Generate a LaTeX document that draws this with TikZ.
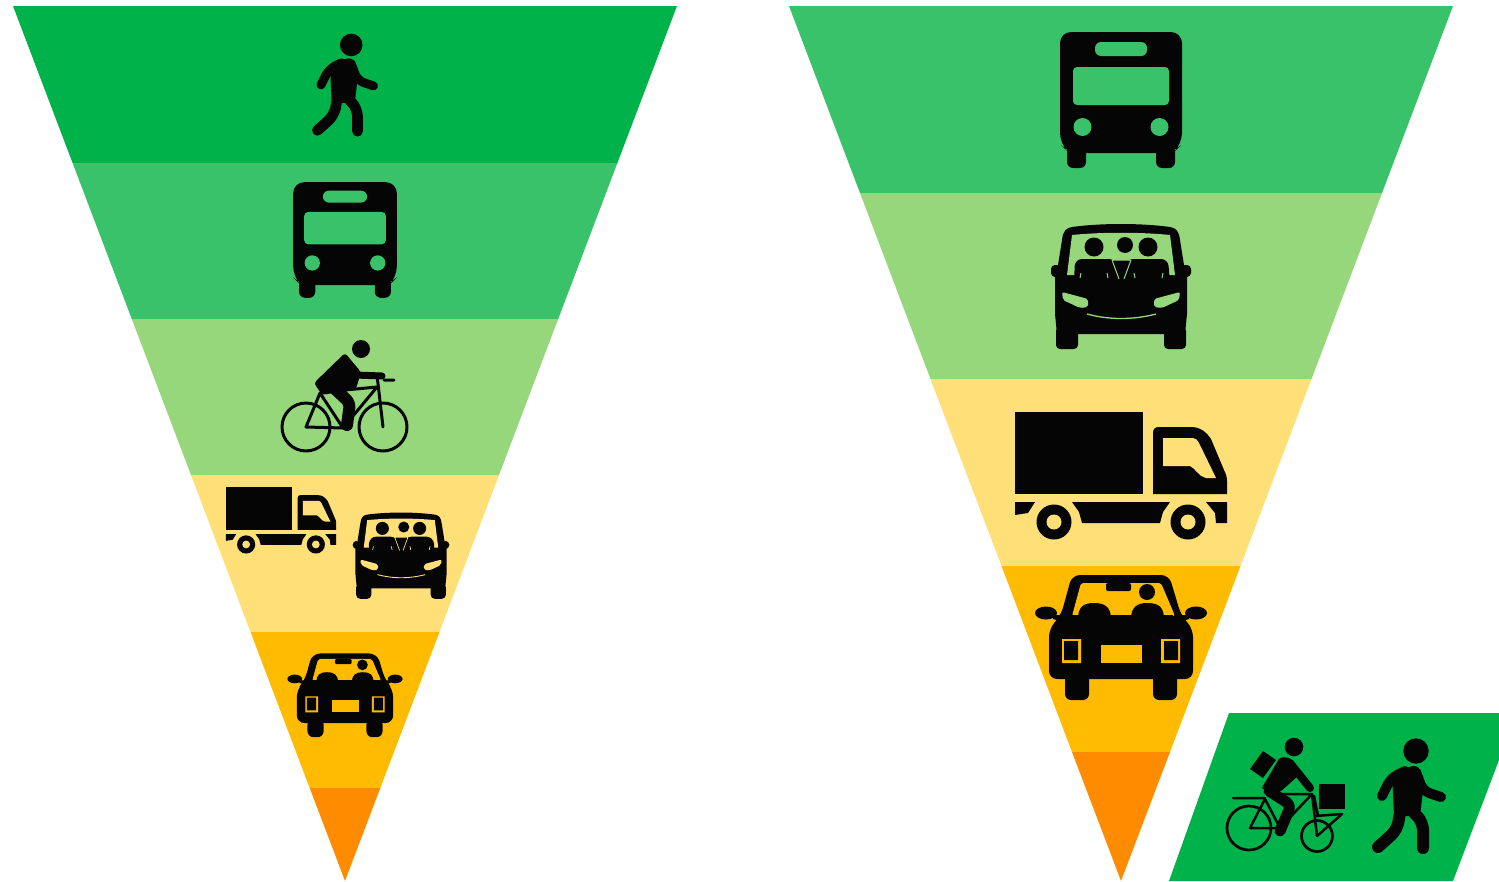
\documentclass[tikz,border=0pt]{standalone}
\definecolor{gA}{HTML}{00B24A}
\definecolor{gB}{HTML}{3AC26A}
\definecolor{gC}{HTML}{97D77C}
\definecolor{yA}{HTML}{FFDF77}
\definecolor{yB}{HTML}{FFBB00}
\definecolor{oA}{HTML}{FF8C00}
\definecolor{ink}{HTML}{050505}
\tikzset{icon/.style={fill=ink,draw=none},
  cut/.style={fill=#1,draw=none},
  stroke/.style={draw=ink,line cap=round,line join=round}}
\newcommand{\icbus}[4]{\begin{scope}[shift={(#1,#2)},scale=#3]
 \fill[icon,rounded corners=6] (-54,40) -- (-54,68) -- (-35,68) -- (-35,40) -- cycle;
 \fill[icon,rounded corners=6] (35,40) -- (35,68) -- (54,68) -- (54,40) -- cycle;
 \fill[icon,rounded corners=11] (-61,-68) -- (61,-68) -- (61,44) -- (52,53) -- (-52,53) -- (-61,44) -- cycle;
 \fill[cut=#4,rounded corners=6] (-26,-58) -- (26,-58) -- (26,-44) -- (-26,-44) -- cycle;
 \fill[cut=#4,rounded corners=4] (-48,-33) -- (48,-33) -- (48,5) -- (-48,5) -- cycle;
 \fill[cut=#4] (-38.5,27) circle[radius=9] (38.5,27) circle[radius=9];
\end{scope}}
\newcommand{\icvan}[4]{\begin{scope}[shift={(#1,#2)},scale=#3]
 \fill[icon,rounded corners=4] (-65,40) -- (-65,62) -- (-43,62) -- (-43,40) -- cycle;
 \fill[icon,rounded corners=4] (43,40) -- (43,62) -- (65,62) -- (65,40) -- cycle;
 \fill[icon,rounded corners=4] (-70,-22) -- (-60,-22) -- (-60,-10) -- (-70,-10) -- cycle;
 \fill[icon,rounded corners=4] (70,-22) -- (60,-22) -- (60,-10) -- (70,-10) -- cycle;
 \fill[icon] (-59,-47) .. controls (-58,-56) and (-55,-59) .. (-49,-60) .. controls (-20,-64) and (20,-64) .. (49,-60) .. controls (55,-59) and (58,-56) .. (59,-47) -- (63,-22) -- (66,-10) -- (66,27) -- (64,47) -- (-64,47) -- (-66,27) -- (-66,-10) -- (-63,-22) -- cycle;
 \fill[cut=#4] (-49,-52) .. controls (-20,-55) and (20,-55) .. (49,-52) -- (54,-12) -- (-54,-12) -- cycle;
 \fill[icon] (-27,-40) circle[radius=9.5] (4,-42) circle[radius=8] (27,-40) circle[radius=9.5];
 \fill[icon,rounded corners=7] (-47,-4) -- (-46,-28) -- (-5,-28) -- (-5,-4) -- cycle;
 \fill[icon,rounded corners=7] (5,-4) -- (5,-28) -- (47,-28) -- (49,-4) -- cycle;
 \fill[icon] (-8,-27) rectangle (8,-4);
 \draw[#4,line width=#3*1pt] (-9,-27) -- (-2,-8) (10,-27) -- (3,-8) (-9,-27) -- (10,-27);
 \draw[#4,line width=#3*1pt] (-41,-9) -- (-40,-14) (-13,-9) -- (-14,-14) (14,-9) -- (13,-14) (41,-9) -- (42,-14);
 \fill[cut=#4,rounded corners=2] (-59,5) -- (-33,12) -- (-33,20) -- (-41,21) -- (-58,13) -- cycle;
 \fill[cut=#4,rounded corners=2] (59,5) -- (33,12) -- (33,20) -- (41,21) -- (58,13) -- cycle;
 \draw[#4,line width=#3*1.3pt] (-34,27) .. controls (-12,33) and (12,33) .. (35,27);
\end{scope}}
\newcommand{\ictruck}[4]{\begin{scope}[shift={(#1,#2)},scale=#3]
 \fill[icon] (-106,-63) rectangle (22,19);
 \fill[icon] (32,19) -- (32,-42) .. controls (32,-46) and (34,-48) .. (38,-48) -- (70,-48) .. controls (80,-48) and (86,-42) .. (90,-36) -- (103,-5) .. controls (105,-1) and (106,2) .. (106,6) -- (106,19) -- cycle;
 \fill[cut=#4] (42,-37) -- (72,-37) .. controls (75,-37) and (76,-35) .. (78,-32) -- (95,3) -- (85,3) .. controls (78,2) and (74,-7) .. (69,-9) -- (42,-9) -- cycle;
 \fill[icon] (-106,27) -- (-86,27) -- (-93,38) -- (-106,40) -- cycle;
 \fill[icon] (-49,27) -- (49,27) -- (42,37) -- (39,48) -- (-39,48) -- (-42,37) -- cycle;
 \fill[icon] (85,27) -- (106,27) -- (106,48) -- (95,48) -- (94,38) -- cycle;
 \fill[icon] (-67,47) circle[radius=17.5] (67,47) circle[radius=17.5];
 \fill[cut=#4] (-67,47) circle[radius=7.5] (67,47) circle[radius=7.5];
\end{scope}}
\newcommand{\iccar}[4]{\begin{scope}[shift={(#1,#2)},scale=#3]
 \fill[icon,rounded corners=6] (-56,35) -- (-56,63) -- (-32,63) -- (-32,35) -- cycle;
 \fill[icon,rounded corners=6] (32,35) -- (32,63) -- (56,63) -- (56,35) -- cycle;
 \fill[icon] (-75,-24) ellipse[x radius=11,y radius=6.5] (75,-24) ellipse[x radius=11,y radius=6.5];
 \fill[icon] (-68,-22) -- (-55,-22) -- (-55,-14) -- (-68,-18) -- cycle;
 \fill[icon] (68,-22) -- (55,-22) -- (55,-14) -- (68,-18) -- cycle;
 \fill[icon,rounded corners=8] (-49,-62) -- (48,-62) -- (60,-22) -- (72,-8) -- (72,42) -- (-72,42) -- (-72,-8) -- (-60,-22) -- cycle;
 \fill[cut=#4,rounded corners=2] (-49,-21) -- (-40,-54) -- (40,-54) -- (54,-21) -- cycle;
 \fill[icon,rounded corners=2] (-15,-54) rectangle (10,-46);
 \fill[icon] (26,-45) circle[radius=8];
 \fill[icon] (-43,-20) .. controls (-42,-30) and (-38,-34) .. (-27,-34) .. controls (-16,-34) and (-11,-30) .. (-10,-20) -- cycle;
 \fill[icon] (10,-20) .. controls (11,-30) and (16,-34) .. (26,-34) .. controls (38,-34) and (42,-30) .. (43,-20) -- cycle;
 \fill[icon] (-52,-22) -- (52,-22) -- (52,-18) -- (-52,-18) -- cycle;
 \fill[cut=#4] (-59,2) rectangle (-40,26) (40,2) rectangle (59,26);
 \fill[icon] (-57,4) rectangle (-43,23) (43,4) rectangle (57,23);
 \fill[cut=#4] (-20,8) rectangle (21,26);
\end{scope}}
\newcommand{\icwalk}[3]{\begin{scope}[shift={(#1,#2)},scale=#3]
 \fill[icon] (7,-45) circle[radius=12.7];
 \fill[icon,rounded corners=4] (-17,-25) -- (8,-31) -- (15,-14) -- (11,20) -- (-15,20) -- cycle;
 \draw[stroke,line width=#3*10pt,rounded corners=7] (-4,-25) -- (-18,-18) -- (-27,0);
 \draw[stroke,line width=#3*10pt,rounded corners=7] (7,-24) -- (14,-5) -- (32,1);
 \draw[stroke,line width=#3*12pt,rounded corners=8] (-8,11) -- (-12,34) -- (-31,51);
 \draw[stroke,line width=#3*12pt,rounded corners=8] (0,12) -- (14,26) -- (14,52);
\end{scope}}
\newcommand{\iccycle}[3]{\begin{scope}[shift={(#1,#2)},scale=#3]
 \draw[stroke,line width=#3*3pt] (-38,32) circle[radius=24] (39,32) circle[radius=24];
 \draw[stroke,line width=#3*3pt] (-24,-2) -- (-38,32) -- (-1,33) -- (33,-8) -- (-20,-3) (-24,-2) -- (-1,33) (33,-20) -- (39,32) (40,-15) -- (50,-15);
 \fill[icon,rounded corners=3] (1,-42) -- (17,-23) -- (12,-6) -- (-22,0) -- (-30,-12) -- cycle;
 \fill[icon] (17,-46) circle[radius=9];
 \draw[stroke,line width=#3*7pt] (11,-20) -- (38,-19);
 \draw[stroke,line width=#3*12pt,rounded corners=5] (-11,-8) -- (6,8) -- (3,30);
\end{scope}}
\newcommand{\iccourier}[3]{\begin{scope}[shift={(#1,#2)},scale=#3]
 \draw[stroke,line width=#3*2.7pt] (-36,32) circle[radius=22] (32,40) circle[radius=15.5];
 \draw[stroke,line width=#3*2.5pt] (-35,32) -- (-20,3) -- (-5,32) -- cycle (-5,32) -- (27,-2) (27,-2) -- (32,40) (29,0) -- (33,20) (-52,2) -- (-20,2) (-8,-2) -- (27,-2) (30,20) -- (57,18) -- (32,40);
 \fill[icon] (-22,-45) -- (-9,-36) -- (-22,-18) -- (-35,-27) -- cycle;
 \fill[icon,rounded corners=3] (-5,-39) -- (6,-38) -- (13,-20) -- (-5,-4) -- (-24,-7) -- (-19,-15) -- cycle;
 \fill[icon] (9,-49) circle[radius=9.3];
 \draw[stroke,line width=#3*8pt] (5,-33) -- (25,-8);
 \draw[stroke,line width=#3*11pt,rounded corners=5] (-16,-5) -- (6,9) -- (-5,35);
 \fill[icon] (34,-12) rectangle (60,13);
\end{scope}}
\begin{document}
\begin{tikzpicture}[x=1pt,y=-1pt]
\useasboundingbox (0,0) rectangle (1499,881);
\fill[white] (0,0) rectangle (1499,881);
% left funnel
\fill[gA] (13,6) -- (677,6) -- (617.4,163) -- (72.6,163) -- cycle;
\fill[gB] (72.6,163) -- (617.4,163) -- (558.2,319) -- (131.8,319) -- cycle;
\fill[gC] (131.8,319) -- (558.2,319) -- (499,475) -- (191,475) -- cycle;
\fill[yA] (191,475) -- (499,475) -- (439.5,632) -- (250.5,632) -- cycle;
\fill[yB] (250.5,632) -- (439.5,632) -- (380.3,788) -- (309.7,788) -- cycle;
\fill[oA] (309.7,788) -- (380.3,788) -- (345,881) -- cycle;
% right funnel
\fill[gB] (789,6) -- (1453,6) -- (1382,193) -- (860,193) -- cycle;
\fill[gC] (860,193) -- (1382,193) -- (1311.5,379) -- (930.5,379) -- cycle;
\fill[yA] (930.5,379) -- (1311.5,379) -- (1240.5,566) -- (1001.5,566) -- cycle;
\fill[yB] (1001.5,566) -- (1240.5,566) -- (1170,752) -- (1072,752) -- cycle;
\fill[oA] (1072,752) -- (1170,752) -- (1121,881) -- cycle;
% parallelogram
\fill[gA] (1229,713) -- (1499,713) -- (1499,760) -- (1453,881) -- (1169,881) -- cycle;
% left icons
\icwalk{345}{85}{0.89}
\icbus{345}{240}{0.85}{gB}
\iccycle{344}{395}{1}
\ictruck{281}{520}{0.52}{yA}
\icvan{401}{556}{0.69}{yA}
\iccar{345}{695}{0.67}{yB}
% right icons
\icbus{1121}{100}{1}{gB}
\icvan{1121}{287}{1}{gC}
\ictruck{1121}{475}{1}{yA}
\iccar{1121}{637}{1}{yB}
\iccourier{1285}{796}{1}
\icwalk{1409}{796}{1}
\end{tikzpicture}
\end{document}
